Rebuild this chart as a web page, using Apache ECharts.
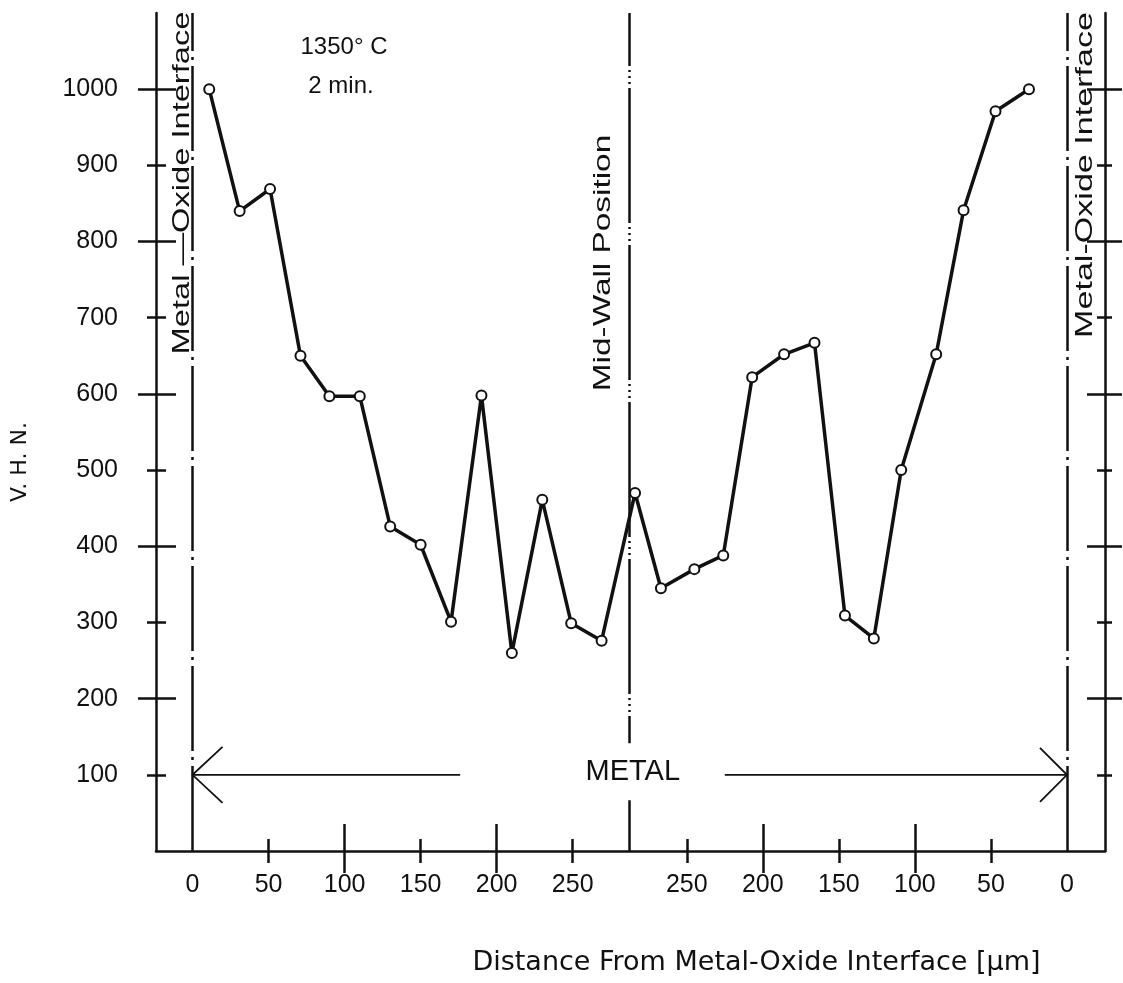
<!DOCTYPE html>
<html>
<head>
<meta charset="utf-8">
<script src="https://cdn.jsdelivr.net/npm/echarts@6/dist/echarts.min.js"></script>
<style>
html,body{margin:0;padding:0;background:#fff;}
#c{width:1123px;height:983px;}
</style>
</head>
<body>
<div id="c"></div>
<script>
// ---- data ----
const TOTAL = 575;              // wall width on the drawing scale (um), interface to interface
const MID = TOTAL / 2;          // mid-wall position

// left half: distance from left metal-oxide interface (um) and hardness
const leftDist = [11, 31, 51, 71, 90, 110, 130, 150, 170, 190, 210, 230, 249, 269, 291];
const leftVHN  = [1000, 840, 869, 650, 597, 597, 426, 402, 301, 598, 260, 461, 299, 276, 470];

// right half: distance from right metal-oxide interface (um), listed from the mid-wall outward
const rightDist = [267, 245, 226, 207, 186, 166, 146, 127, 109, 86, 68, 47, 25];
const rightVHN  = [345, 370, 388, 622, 652, 667, 309, 279, 500, 652, 841, 971, 1000];

// tick labels
const xLabelsLeft  = [0, 50, 100, 150, 200, 250];
const xLabelsRight = [250, 200, 150, 100, 50, 0];
const yLabels = [100, 200, 300, 400, 500, 600, 700, 800, 900, 1000];

// ---- derived ----
const points = leftDist.map((d, i) => [d, leftVHN[i]])
  .concat(rightDist.map((d, i) => [TOTAL - d, rightVHN[i]]));

const xLabelPos = xLabelsLeft.map(v => v).concat(xLabelsRight.map(v => TOTAL - v));
const xShortPos = xLabelsLeft.filter(v => v % 100 === 50)
  .concat(xLabelsRight.filter(v => v % 100 === 50).map(v => TOTAL - v));
const xLongPos = xLabelsLeft.filter(v => v > 0 && v % 100 === 0)
  .concat(xLabelsRight.filter(v => v > 0 && v % 100 === 0).map(v => TOTAL - v));
const yShort = yLabels.filter(v => v % 200 === 100);
const yLong = yLabels.filter(v => v % 200 === 0);

const INK = '#111';
const LABEL_FONT = 'Liberation Sans, Arial, sans-serif';
const TEXT_FONT = 'Liberation Sans, Arial, sans-serif';

function xAx(extra) {
  return Object.assign({
    type: 'value', min: -24, max: 600, position: 'bottom',
    splitLine: { show: false },
    axisLine: { show: false, onZero: false },
    axisLabel: { show: false },
    axisTick: { show: false }
  }, extra);
}
function yAx(extra) {
  return Object.assign({
    type: 'value', min: 0, max: 1100,
    splitLine: { show: false },
    axisLine: { show: false, onZero: false },
    axisLabel: { show: false },
    axisTick: { show: false }
  }, extra);
}
function ticks(vals, len) {
  return { show: true, customValues: vals, length: len, inside: false,
           lineStyle: { color: INK, width: 2.5 } };
}

const chart = echarts.init(document.getElementById('c'), null, { renderer: 'canvas' });

chart.setOption({
  animation: false,
  backgroundColor: '#fff',
  grid: { left: 156, top: 13, width: 949, height: 838, containLabel: false },
  xAxis: [
    xAx({
      axisLine: { show: true, onZero: false, lineStyle: { color: INK, width: 2.5 } },
      axisLabel: {
        show: true, customValues: xLabelPos, margin: 22,
        fontSize: 25, fontFamily: LABEL_FONT, color: INK,
        formatter: v => String(Math.round(v <= MID ? v : TOTAL - v))
      },
      name: 'Distance From Metal-Oxide Interface [µm]',
      nameLocation: 'middle', nameGap: 98,
      nameTextStyle: { fontSize: 27, fontFamily: 'DejaVu Sans, sans-serif', color: INK,
                       padding: [0, 0, 0, 252] }
    }),
    xAx({ offset: -12, axisTick: ticks(xShortPos, 24) }),
    xAx({ offset: -27, axisTick: ticks(xLongPos, 49) })
  ],
  yAxis: [
    yAx({
      position: 'left',
      axisLine: { show: true, onZero: false, lineStyle: { color: INK, width: 2.5 } },
      axisLabel: { show: true, customValues: yLabels, margin: 38,
                   fontSize: 25, fontFamily: LABEL_FONT, color: INK,
                   formatter: v => String(v) },
      name: 'V. H. N.', nameLocation: 'middle', nameRotate: 90, nameGap: 125,
      nameTextStyle: { fontSize: 22, fontFamily: 'DejaVu Sans, sans-serif', color: INK,
                       padding: [0, 60, 0, 0] }
    }),
    yAx({ position: 'left', offset: -10, axisTick: ticks(yShort, 19) }),
    yAx({ position: 'left', offset: -20, axisTick: ticks(yLong, 38) }),
    yAx({ position: 'right',
          axisLine: { show: true, onZero: false, lineStyle: { color: INK, width: 2.5 } } }),
    yAx({ position: 'right', offset: -8, axisTick: ticks(yShort, 15) }),
    yAx({ position: 'right', offset: -18, axisTick: ticks(yLong, 35) })
  ],
  series: [{
    type: 'line',
    xAxisIndex: 0, yAxisIndex: 0,
    data: points,
    symbol: 'circle', symbolSize: 10, showAllSymbol: true,
    lineStyle: { color: INK, width: 3.5 },
    itemStyle: { color: '#fff', borderColor: INK, borderWidth: 2 },
    z: 5,
    markLine: {
      silent: true, symbol: ['none', 'none'], label: { show: false },
      animation: false,
      data: [
        { xAxis: 0, lineStyle: { color: INK, width: 2.5, type: [85, 6, 3, 6] } },
        { xAxis: TOTAL, lineStyle: { color: INK, width: 2.5, type: [85, 6, 3, 6] } },
        { xAxis: MID, lineStyle: { color: INK, width: 2.5, type: [135, 4, 2, 4, 2, 4, 2, 4] } }
      ]
    }
  }]
});

// ---- annotations positioned through the axes ----
const px = (x, y) => chart.convertToPixel({ xAxisIndex: 0, yAxisIndex: 0 }, [x, y]);
const ARROW_Y = 100;
const arrowLeftEnd = 176, arrowRightStart = 350;

const pL = px(0, ARROW_Y), pLe = px(arrowLeftEnd, ARROW_Y);
const pR = px(TOTAL, ARROW_Y), pRs = px(arrowRightStart, ARROW_Y);
const pM = px(MID, ARROW_Y);
const xL = px(0, 0)[0], xR = px(TOTAL, 0)[0], xM = px(MID, 0)[0];

const arrowStyle = { stroke: INK, lineWidth: 1.8, fill: null };

function vtext(text, x, y, sx) {
  return { type: 'text', x: x, y: y, rotation: Math.PI / 2, scaleX: sx, z: 20,
           style: { text: text, fill: INK, fontSize: 24, fontFamily: TEXT_FONT,
                    align: 'center', verticalAlign: 'middle' } };
}

chart.setOption({
  graphic: [
    { type: 'polyline', z: 20, shape: { points: [pL, pLe] }, style: arrowStyle },
    { type: 'polyline', z: 20, shape: { points: [[pL[0] + 30, pL[1] - 28], pL, [pL[0] + 30, pL[1] + 28]] }, style: arrowStyle },
    { type: 'polyline', z: 20, shape: { points: [pRs, pR] }, style: arrowStyle },
    { type: 'polyline', z: 20, shape: { points: [[pR[0] - 27, pR[1] - 27], pR, [pR[0] - 27, pR[1] + 27]] }, style: arrowStyle },
    { type: 'text', x: pM[0] + 3, y: pM[1] - 3, z: 21,
      style: { text: 'METAL', fill: INK, fontSize: 29, fontFamily: TEXT_FONT,
               align: 'center', verticalAlign: 'middle',
               backgroundColor: '#fff', padding: [14, 10] } },
    vtext('Metal —Oxide Interface', xL - 10, 183, 1.36),
    vtext('Metal-Oxide Interface', xR + 18, 175, 1.42),
    vtext('Mid-Wall Position', xM - 26, 263, 1.39),
    { type: 'text', x: 344, y: 47, z: 20,
      style: { text: '1350° C', fill: INK, fontSize: 24, fontFamily: TEXT_FONT,
               align: 'center', verticalAlign: 'middle' } },
    { type: 'text', x: 341, y: 86, z: 20,
      style: { text: '2 min.', fill: INK, fontSize: 24, fontFamily: TEXT_FONT,
               align: 'center', verticalAlign: 'middle' } }
  ]
});
</script>
</body>
</html>
